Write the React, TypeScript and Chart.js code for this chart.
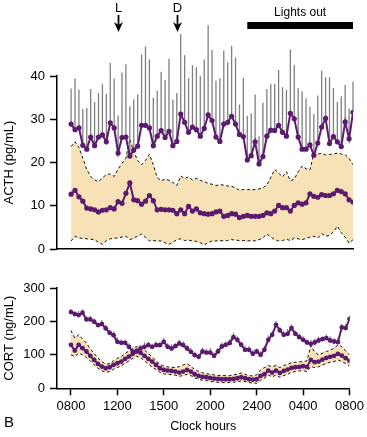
import React, { useEffect, useRef } from "react";
import { Chart, registerables } from "chart.js";

Chart.register(...registerables);

// ---- data (one point every 20 min, 08:00 -> 08:00, index 0..72) ----
const hourLabels = ["0800", "1200", "1500", "2000", "2400", "0400", "0800"];
const hourTickIdx = [0, 12, 24, 36, 48, 60, 72];

// ACTH, upper (purple) series and the top of its grey bars
const acthPeak = [
  28.9, 27.6, 28.0, 24.0, 23.1, 25.9, 23.9, 25.9, 26.4, 24.8,
  29.2, 28.0, 22.2, 25.8, 25.9, 21.5, 22.9, 23.8, 28.6, 28.6,
  28.0, 23.9, 26.1, 27.4, 25.8, 27.2, 23.9, 24.9, 31.2, 29.3,
  27.0, 28.2, 27.6, 26.1, 27.9, 31.0, 29.7, 25.9, 24.9, 28.9,
  29.3, 30.7, 28.9, 26.5, 26.0, 20.6, 21.6, 24.8, 19.7, 21.4,
  26.1, 27.5, 27.4, 28.6, 27.0, 26.1, 31.4, 30.1, 25.9, 23.1,
  23.1, 24.1, 21.7, 24.5, 28.2, 30.2, 24.4, 26.0, 24.8, 23.7,
  29.4, 25.5, 31.6,
];
const acthPeakTop = [
  37.1, 39.4, 36.9, 32.3, 32.6, 37.0, 34.0, 36.1, 38.1, 35.9,
  43.0, 39.4, 30.9, 40.8, 42.7, 33.0, 34.6, 35.8, 45.0, 46.8,
  43.8, 35.0, 36.6, 41.0, 39.1, 44.0, 34.6, 36.1, 49.7, 44.8,
  39.5, 42.5, 42.0, 40.0, 43.8, 51.7, 46.0, 38.9, 39.5, 45.9,
  43.2, 47.0, 44.3, 33.4, 39.6, 30.8, 31.4, 35.7, 26.1, 33.8,
  37.0, 38.2, 38.2, 41.4, 37.4, 36.8, 46.1, 42.6, 37.2, 36.5,
  34.8, 32.9, 31.2, 35.5, 41.2, 39.7, 39.7, 37.2, 34.0, 35.3,
  37.9, 32.5, 38.7,
];
// ACTH, lower (mean) series with its shaded range
const acthMean = [
  12.7, 13.6, 12.1, 11.1, 9.5, 9.3, 9.1, 8.6, 9.0, 9.1,
  9.6, 9.3, 11.0, 10.6, 12.9, 15.3, 11.4, 11.2, 10.4, 11.1,
  12.4, 11.2, 9.1, 9.2, 9.1, 9.1, 9.0, 8.2, 9.1, 8.2,
  9.9, 8.8, 9.3, 8.4, 8.2, 8.1, 8.2, 8.6, 8.8, 7.6,
  7.8, 8.2, 8.1, 7.3, 7.6, 7.8, 7.6, 7.6, 7.6, 7.8,
  8.4, 8.2, 8.8, 10.1, 9.6, 9.6, 8.8, 10.1, 10.7, 10.4,
  10.7, 12.8, 12.2, 12.0, 12.6, 12.4, 12.4, 12.8, 13.6, 13.3,
  12.8, 11.4, 10.9,
];
const acthHigh = [
  23.7, 24.8, 23.5, 21.0, 18.4, 16.8, 16.0, 15.6, 16.5, 17.2,
  17.4, 16.8, 18.5, 19.8, 21.0, 25.5, 22.5, 20.5, 19.5, 20.5,
  21.9, 19.5, 16.5, 15.8, 16.2, 15.9, 15.4, 14.7, 16.9, 16.3,
  16.7, 16.0, 16.4, 15.9, 15.6, 15.2, 15.0, 14.7, 14.9, 14.8,
  14.6, 14.5, 14.2, 13.6, 13.8, 13.8, 13.7, 13.8, 13.9, 14.2,
  14.8, 16.6, 18.4, 17.6, 16.7, 17.9, 15.8, 16.2, 17.9, 19.2,
  18.6, 18.3, 22.2, 22.0, 22.1, 21.8, 21.9, 22.0, 22.2, 22.0,
  21.8, 21.0, 19.5,
];
const acthLow = [
  1.9, 3.0, 2.6, 2.5, 2.4, 2.3, 2.2, 1.6, 1.1, 2.0,
  2.4, 2.5, 2.6, 2.8, 3.0, 2.2, 2.6, 3.0, 3.5, 2.8,
  1.9, 2.0, 1.9, 1.9, 1.5, 1.1, 1.6, 2.2, 2.4, 2.0,
  2.1, 1.9, 1.8, 1.5, 1.0, 1.5, 1.9, 1.9, 2.0, 1.9,
  2.0, 2.2, 2.1, 2.0, 2.0, 1.9, 2.0, 1.9, 2.2, 2.6,
  3.5, 2.8, 2.2, 1.9, 2.0, 2.3, 2.0, 2.6, 2.4, 2.2,
  2.5, 2.8, 3.0, 2.6, 3.6, 3.0, 3.2, 4.0, 5.3, 3.8,
  2.8, 1.4, 2.2,
];

// CORT, upper series and its small error bars
const cortPeak = [
  228, 222, 219, 226, 206, 206, 199, 189, 192, 179,
  166, 159, 139, 136, 136, 124, 109, 112, 119, 124,
  129, 124, 129, 129, 139, 124, 119, 126, 134, 129,
  119, 109, 99, 94, 110, 107, 107, 97, 110, 125,
  130, 135, 153, 145, 130, 115, 115, 103, 110, 100,
  115, 145, 160, 190, 173, 160, 163, 180, 163, 153,
  145, 137, 133, 137, 143, 147, 150, 143, 140, 138,
  182, 180, 207,
];
const cortPeakErr = [
  10, 9, 12, 10, 9, 11, 10, 8, 12, 10,
  9, 11, 13, 10, 9, 11, 12, 10, 11, 14,
  11, 9, 12, 10, 12, 11, 13, 9, 11, 12,
  10, 12, 11, 9, 12, 11, 14, 10, 11, 12,
  9, 12, 13, 11, 10, 12, 11, 12, 9, 11,
  12, 13, 11, 12, 10, 12, 14, 11, 9, 12,
  11, 10, 12, 11, 12, 9, 11, 13, 10, 12,
  11, 12, 10,
];
// CORT, lower (mean) series with its shaded range
const cortMean = [
  130, 113, 130, 120, 110, 97, 85, 73, 65, 60,
  63, 70, 75, 80, 88, 95, 103, 110, 106, 97,
  88, 80, 70, 60, 55, 53, 52, 50, 47, 50,
  55, 50, 42, 37, 34, 33, 31, 29, 28, 27,
  27, 27, 28, 30, 33, 30, 27, 26, 27, 37,
  42, 53, 47, 53, 46, 52, 56, 61, 63, 64,
  66, 64, 85, 78, 80, 86, 91, 94, 97, 103,
  98, 90, 82,
];
const cortHigh = [
  173, 150, 160, 148, 135, 118, 104, 90, 80, 72,
  74, 82, 90, 95, 104, 112, 120, 125, 122, 114,
  104, 94, 82, 72, 66, 64, 63, 62, 65, 70,
  74, 65, 56, 50, 46, 44, 42, 40, 38, 38,
  38, 38, 40, 42, 46, 42, 38, 37, 40, 55,
  62, 68, 65, 68, 62, 68, 72, 77, 78, 79,
  80, 82, 128, 108, 100, 105, 110, 114, 120, 130,
  125, 112, 100,
];
const cortLow = [
  100, 95, 105, 100, 92, 82, 70, 60, 52, 48,
  50, 57, 62, 67, 75, 82, 90, 96, 92, 82,
  72, 64, 56, 48, 43, 42, 41, 39, 36, 38,
  42, 38, 31, 27, 24, 23, 21, 19, 18, 17,
  17, 17, 18, 20, 22, 20, 17, 16, 15, 24,
  30, 40, 34, 40, 33, 38, 42, 48, 50, 52,
  53, 50, 65, 62, 64, 70, 75, 78, 80, 85,
  80, 74, 67,
];

// event markers (index of the 20-min sample)
const mealMarks: [string, number][] = [["L", 12], ["D", 27]];
const lightsOffIdx = 45;
const lightsOnIdx = 72;

// ---- styles ----
const FONT = '"Liberation Sans", Arial, Helvetica, sans-serif';
const PURPLE = "#5b1a6e";
const TAN = "#f6e2b6";
const GREY = "#808080";
const X_MIN = -3.6;
const X_MAX = 72;

const pts = (arr: number[]) => arr.map((v, i) => ({ x: i, y: v }));

function bandSets(high: number[], low: number[]) {
  return [
    {
      type: "line" as const,
      data: pts(high),
      borderColor: "#111",
      borderWidth: 1,
      borderDash: [3, 2.5],
      pointRadius: 0,
      fill: "+1",
      backgroundColor: TAN,
      order: 10,
    },
    {
      type: "line" as const,
      data: pts(low),
      borderColor: "#111",
      borderWidth: 1,
      borderDash: [3, 2.5],
      pointRadius: 0,
      fill: false,
      order: 9,
    },
  ];
}

function purpleLine(arr: number[], order: number, radius: number) {
  return {
    type: "line" as const,
    data: pts(arr),
    borderColor: PURPLE,
    backgroundColor: PURPLE,
    borderWidth: 2,
    pointRadius: radius,
    pointBorderWidth: 0,
    pointBackgroundColor: PURPLE,
    fill: false,
    order,
  };
}

function yAxis(max: number, step: number, title: string) {
  return {
    min: 0,
    max,
    ticks: { stepSize: step, color: "#000", font: { family: FONT, size: 13 }, padding: 5 },
    grid: {
      display: true,
      drawOnChartArea: false,
      drawTicks: true,
      tickLength: 7,
      tickWidth: 1.5,
      color: "#000",
    },
    border: { display: true, color: "#000", width: 1.5 },
    title: {
      display: true,
      text: title,
      color: "#000",
      font: { family: FONT, size: 13 },
      padding: { top: 2, bottom: 0 },
    },
    afterFit: (s: any) => {
      s.width = 57;
    },
  };
}

// grey error bars drawn through the chart's scales, right after the shaded band
function whiskerPlugin(id: string, base: number[], tip: number[], width: number) {
  return {
    id,
    afterDatasetDraw(chart: any, args: any) {
      if (args.index !== 1) return;
      const { ctx } = chart;
      const x = chart.scales.x;
      const y = chart.scales.y;
      ctx.save();
      ctx.strokeStyle = GREY;
      ctx.lineWidth = width;
      ctx.beginPath();
      for (let i = 0; i < base.length; i++) {
        const px = x.getPixelForValue(i);
        ctx.moveTo(px, y.getPixelForValue(base[i]));
        ctx.lineTo(px, y.getPixelForValue(tip[i]));
      }
      ctx.stroke();
      ctx.restore();
    },
  };
}

const topAnnotations = {
  id: "topAnnotations",
  afterDraw(chart: any) {
    const { ctx } = chart;
    const x = chart.scales.x;
    ctx.save();
    ctx.fillStyle = "#000";
    ctx.strokeStyle = "#000";
    ctx.textAlign = "center";
    ctx.textBaseline = "middle";
    ctx.font = `13px ${FONT}`;
    for (const [label, idx] of mealMarks) {
      const px = Math.round(x.getPixelForValue(idx)) + 0.5;
      ctx.fillText(label, px, 8);
      ctx.lineWidth = 1.8;
      ctx.beginPath();
      ctx.moveTo(px, 15);
      ctx.lineTo(px, 27);
      ctx.stroke();
      ctx.beginPath();
      ctx.moveTo(px - 4.5, 22);
      ctx.lineTo(px, 32);
      ctx.lineTo(px + 4.5, 22);
      ctx.lineTo(px, 25);
      ctx.closePath();
      ctx.fill();
    }
    const x0 = x.getPixelForValue(lightsOffIdx);
    const x1 = x.getPixelForValue(lightsOnIdx);
    ctx.fillRect(x0, 22, x1 - x0, 7);
    ctx.font = `12px ${FONT}`;
    ctx.fillText("Lights out", (x0 + x1) / 2, 13);
    ctx.restore();
  },
};

const bottomAnnotations = {
  id: "bottomAnnotations",
  afterDraw(chart: any) {
    const { ctx } = chart;
    ctx.save();
    ctx.fillStyle = "#000";
    ctx.textAlign = "left";
    ctx.textBaseline = "middle";
    ctx.font = `15px ${FONT}`;
    ctx.fillText("B", 4, 161);
    ctx.restore();
  },
};

const acthTips = acthPeakTop;
const cortTips = cortPeak.map((v, i) => v + cortPeakErr[i]);

export default function App() {
  const topRef = useRef<HTMLCanvasElement>(null);
  const botRef = useRef<HTMLCanvasElement>(null);

  useEffect(() => {
    const top = new Chart(topRef.current as HTMLCanvasElement, {
      type: "line",
      data: {
        datasets: [
          ...bandSets(acthHigh, acthLow),
          purpleLine(acthMean, 2, 2.6),
          purpleLine(acthPeak, 1, 2.6),
        ] as any,
      },
      options: {
        animation: false,
        responsive: false,
        devicePixelRatio: 1,
        layout: { padding: { top: 76, right: 14, bottom: 9, left: 0 } },
        plugins: { legend: { display: false }, tooltip: { enabled: false } },
        scales: {
          x: {
            type: "linear",
            min: X_MIN,
            max: X_MAX,
            offset: false,
            grid: { display: false },
            border: { display: true, color: "#000", width: 1.5 },
            ticks: { display: false },
            afterFit: (s: any) => {
              s.height = 0;
            },
          },
          y: yAxis(40, 10, "ACTH (pg/mL)") as any,
        },
      },
      plugins: [whiskerPlugin("acthWhiskers", acthPeak, acthTips, 1.3), topAnnotations],
    });

    const bottom = new Chart(botRef.current as HTMLCanvasElement, {
      type: "line",
      data: {
        datasets: [
          ...bandSets(cortHigh, cortLow),
          purpleLine(cortMean, 2, 2.4),
          purpleLine(cortPeak, 1, 2.4),
        ] as any,
      },
      options: {
        animation: false,
        responsive: false,
        devicePixelRatio: 1,
        layout: { padding: { top: 26, right: 14, bottom: 3, left: 0 } },
        plugins: { legend: { display: false }, tooltip: { enabled: false } },
        scales: {
          x: {
            type: "linear",
            min: X_MIN,
            max: X_MAX,
            offset: false,
            afterBuildTicks: (s: any) => {
              s.ticks = hourTickIdx.map((v) => ({ value: v }));
            },
            ticks: {
              color: "#000",
              font: { family: FONT, size: 13 },
              padding: 3,
              maxRotation: 0,
              autoSkip: false,
              callback: (v: any) => hourLabels[hourTickIdx.indexOf(Number(v))] ?? "",
            },
            grid: {
              display: true,
              drawOnChartArea: false,
              drawTicks: true,
              tickLength: 7,
              tickWidth: 1.5,
              color: "#000",
            },
            border: { display: true, color: "#000", width: 1.5 },
            title: {
              display: true,
              text: "Clock hours",
              color: "#000",
              font: { family: FONT, size: 12.5 },
              padding: { top: 0, bottom: 0 },
            },
            afterFit: (s: any) => {
              s.height = 45.7;
            },
          },
          y: yAxis(300, 100, "CORT (ng/mL)") as any,
        },
      },
      plugins: [whiskerPlugin("cortWhiskers", cortPeak, cortTips, 1.2), bottomAnnotations],
    });

    return () => {
      top.destroy();
      bottom.destroy();
    };
  }, []);

  return (
    <div
      style={{
        position: "fixed",
        left: 0,
        top: 0,
        width: 367,
        height: 437,
        background: "#fff",
        overflow: "hidden",
      }}
    >
      <canvas
        ref={topRef}
        width={367}
        height={262}
        style={{ position: "absolute", left: 0, top: 0, width: 367, height: 262 }}
      />
      <canvas
        ref={botRef}
        width={367}
        height={175}
        style={{ position: "absolute", left: 0, top: 262, width: 367, height: 175 }}
      />
    </div>
  );
}
